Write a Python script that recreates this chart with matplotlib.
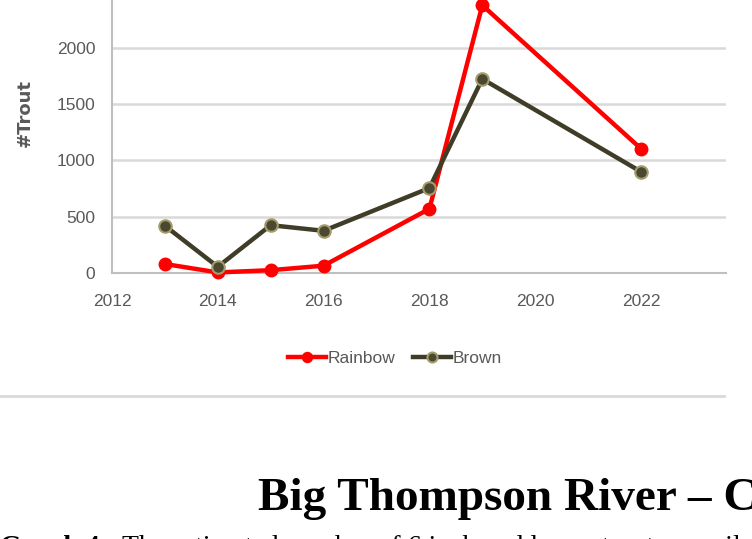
import matplotlib
matplotlib.use("Agg")
import matplotlib.pyplot as plt

years = [2013, 2014, 2015, 2016, 2018, 2019, 2022]
rainbow = [80, 5, 25, 65, 570, 2380, 1105]
brown = [420, 55, 425, 375, 755, 1725, 900]
xticks = [2012, 2014, 2016, 2018, 2020, 2022]
yticks = [0, 500, 1000, 1500, 2000]

tick_font = 'Liberation Sans'

fig = plt.figure(figsize=(7.52, 5.39), dpi=100)
ax = fig.add_axes([112 / 752, 1 - 273 / 539, (726 - 112) / 752, 273 / 539])

ax.plot(years, rainbow, color='#ff0000', lw=3.2, marker='o', ms=9,
        mfc='#ff0000', mec='#ff0000', label='Rainbow', zorder=3, clip_on=False)
ax.plot(years, brown, color='#3f3d28', lw=3.2, marker='o', ms=9,
        mfc='#4a4830', mec='#a39c6c', mew=1.5, label='Brown', zorder=4, clip_on=False)

ax.set_xlim(2012, 2012 + (726 - 112) / 52.9)
ax.set_ylim(0, 273 / 0.1125)
ax.set_xticks(xticks)
ax.set_yticks(yticks)
ax.grid(axis='y', color='#d9d9d9', lw=1.8)
ax.set_axisbelow(True)
for s in ['top', 'right']:
    ax.spines[s].set_visible(False)
for s in ['left', 'bottom']:
    ax.spines[s].set_color('#bfbfbf')
    ax.spines[s].set_linewidth(1.5)
ax.tick_params(length=0, colors='#595959', labelsize=12.5)
ax.tick_params(axis='x', pad=15)
ax.tick_params(axis='y', pad=12)
for lab in ax.get_xticklabels() + ax.get_yticklabels():
    lab.set_fontfamily(tick_font)
ax.set_ylabel('#Trout', color='#595959', fontsize=13, fontweight='bold')
ax.yaxis.set_label_coords(-0.127, 0.586)

leg = fig.legend(loc='center', bbox_to_anchor=(395 / 752, 1 - 358 / 539), ncol=2,
                 frameon=False, handlelength=2.2, columnspacing=1.0, handletextpad=0.1,
                 markerscale=0.8, prop={'family': tick_font, 'size': 12.5})
for t in leg.get_texts():
    t.set_color('#595959')

fig.add_artist(plt.Line2D([0, 724 / 752], [1 - 396 / 539] * 2, color='#d9d9d9', lw=2))

fig.text(258 / 752, 1 - 499 / 539, 'Big Thompson River \u2013 Colorado', family='Liberation Serif',
         fontweight='bold', fontsize=34, va='center', ha='left')
fig.text(0, 1 - 548 / 539, 'Graph 4:', family='Liberation Serif', fontweight='bold',
         fontsize=20, va='center', ha='left')
fig.text(122 / 752, 1 - 548 / 539, 'The estimated number of 6 inch and larger trout per mile',
         family='Liberation Serif', fontsize=20, va='center', ha='left')

fig.savefig('out.png', dpi=100)
